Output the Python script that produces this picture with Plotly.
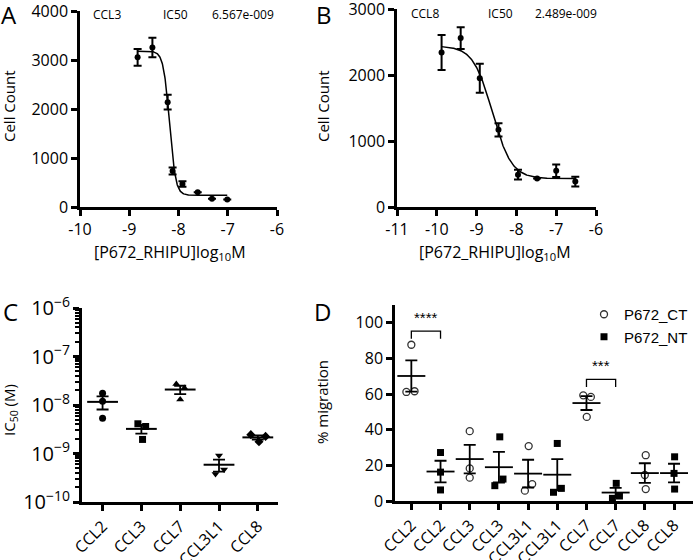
import numpy as np
import plotly.graph_objects as go

W, H = 693, 560
FONT = "Open Sans"

# ---------------- Panel A data (CCL3) ----------------
a_logx = [-8.83, -8.53, -8.22, -8.12, -7.92, -7.61, -7.32, -7.01]
a_mean = [3055, 3255, 2140, 735, 470, 300, 170, 155]
a_err = [170, 200, 150, 70, 55, 0, 0, 0]
a_fit = dict(top=3180, bottom=240, ic50=6.567e-9, hill=7.0)

# ---------------- Panel B data (CCL8) ----------------
b_logx = [-9.88, -9.40, -8.92, -8.45, -7.96, -7.48, -7.00, -6.52]
b_mean = [2340, 2560, 1950, 1170, 490, 430, 550, 385]
b_err = [265, 165, 220, 100, 75, 0, 95, 75]
b_fit = dict(top=2440, bottom=430, ic50=2.489e-9, hill=1.8)

# ---------------- Panel C data (IC50 per chemokine) ----------------
c_cats = ["CCL2", "CCL3", "CCL7", "CCL3L1", "CCL8"]
c_vals = [
    [1.75e-8, 1.2e-8, 5.3e-9],
    [4.1e-9, 3.6e-9, 1.95e-9],
    [2.7e-8, 2.25e-8, 1.3e-8],
    [9.1e-10, 4.7e-10, 3.8e-10],
    [2.45e-9, 2.25e-9, 1.75e-9],
]
c_symbols = ["circle", "square", "triangle-up", "triangle-down", "diamond"]
c_jitter = [
    [0.0, 0.0, 0.0],
    [-0.09, 0.11, 0.03],
    [-0.10, 0.11, 0.0],
    [0.0, 0.13, -0.09],
    [-0.18, 0.20, 0.03],
]

# ---------------- Panel D data (% migration) ----------------
d_cats = ["CCL2", "CCL2", "CCL3", "CCL3", "CCL3L1", "CCL3L1", "CCL7", "CCL7", "CCL8", "CCL8"]
d_group = ["P672_CT", "P672_NT"] * 5
d_vals = [
    [87.7, 61.2, 61.6],
    [27.2, 16.2, 6.2],
    [39.2, 18.3, 13.1],
    [36.0, 12.3, 8.6],
    [30.8, 9.5, 5.8],
    [32.3, 7.1, 4.9],
    [59.3, 58.4, 47.2],
    [9.9, 2.8, 1.5],
    [25.7, 14.6, 6.7],
    [24.8, 15.5, 6.7],
]
d_jitter = [
    [0.0, -0.17, 0.11],
    [0.0, 0.0, 0.0],
    [0.0, 0.0, 0.0],
    [0.03, 0.14, -0.14],
    [0.02, 0.14, -0.11],
    [0.0, 0.14, -0.13],
    [-0.11, 0.15, 0.01],
    [0.02, 0.13, -0.11],
    [0.03, 0.0, 0.03],
    [0.02, 0.0, 0.02],
]
d_sig = [(0, 1, "****", 95.3), (6, 7, "***", 68.3)]


def px_x(p):
    return p / W


def px_y(p):
    return 1 - p / H


def four_pl(x, top, bottom, ic50, hill):
    return bottom + (top - bottom) / (1 + 10 ** (hill * (x - np.log10(ic50))))


fig = go.Figure()

# ---- A ----
fig.add_trace(go.Scatter(
    x=a_logx, y=a_mean, mode="markers", xaxis="x", yaxis="y",
    marker=dict(color="black", size=6),
    error_y=dict(type="data", array=a_err, visible=True, color="black", thickness=2, width=4),
    showlegend=False))
xa = np.linspace(min(a_logx), max(a_logx), 300)
fig.add_trace(go.Scatter(x=xa, y=four_pl(xa, **a_fit), mode="lines", xaxis="x", yaxis="y",
                         line=dict(color="black", width=1.5), showlegend=False))

# ---- B ----
fig.add_trace(go.Scatter(
    x=b_logx, y=b_mean, mode="markers", xaxis="x2", yaxis="y2",
    marker=dict(color="black", size=6),
    error_y=dict(type="data", array=b_err, visible=True, color="black", thickness=2, width=4),
    showlegend=False))
xb = np.linspace(min(b_logx), max(b_logx), 300)
fig.add_trace(go.Scatter(x=xb, y=four_pl(xb, **b_fit), mode="lines", xaxis="x2", yaxis="y2",
                         line=dict(color="black", width=1.5), showlegend=False))

# ---- C ----
for i, (vals, sym, jit) in enumerate(zip(c_vals, c_symbols, c_jitter)):
    v = np.array(vals)
    m = v.mean()
    sem = v.std(ddof=1) / np.sqrt(len(v))
    fig.add_trace(go.Scatter(
        x=[i + j for j in jit], y=vals, mode="markers", xaxis="x3", yaxis="y3",
        marker=dict(symbol=sym, color="black", size=7), showlegend=False))
    fig.add_trace(go.Scatter(
        x=[i], y=[m], mode="markers", xaxis="x3", yaxis="y3",
        marker=dict(symbol="line-ew", size=22, line=dict(color="black", width=2)),
        error_y=dict(type="data", array=[sem], visible=True, color="black", thickness=1.8, width=6),
        showlegend=False))

# ---- D ----
shown = set()
for i, (vals, grp, jit) in enumerate(zip(d_vals, d_group, d_jitter)):
    v = np.array(vals)
    m = v.mean()
    sem = v.std(ddof=1) / np.sqrt(len(v))
    if grp == "P672_CT":
        mk = dict(symbol="circle-open", color="#333333", size=7, line=dict(width=1.3, color="#333333"))
    else:
        mk = dict(symbol="square", color="black", size=7)
    fig.add_trace(go.Scatter(
        x=[i + j for j in jit], y=vals, mode="markers", xaxis="x4", yaxis="y4",
        marker=mk, name=grp, showlegend=grp not in shown, legendgroup=grp))
    shown.add(grp)
    fig.add_trace(go.Scatter(
        x=[i], y=[m], mode="markers", xaxis="x4", yaxis="y4",
        marker=dict(symbol="line-ew", size=20, line=dict(color="black", width=1.8)),
        error_y=dict(type="data", array=[sem], visible=True, color="black", thickness=1.8, width=6),
        showlegend=False))

for (i0, i1, stars, h) in d_sig:
    fig.add_trace(go.Scatter(
        x=[i0, i0, i1, i1], y=[h - 4.3, h, h, h - 4.3], mode="lines", xaxis="x4", yaxis="y4",
        line=dict(color="black", width=1.3), showlegend=False, hoverinfo="skip"))
    fig.add_annotation(x=(i0 + i1) / 2, y=h + 2, xref="x4", yref="y4", text=stars,
                       showarrow=False, yanchor="bottom",
                       font=dict(family="Liberation Sans", size=15, color="black"))

axis_common = dict(showline=True, linecolor="black", linewidth=2.5, ticks="outside",
                   ticklen=6, tickwidth=2.5, tickcolor="black", showgrid=False, zeroline=False,
                   automargin=False, ticklabeloverflow="allow",
                   tickfont=dict(family=FONT, size=16, color="black"))

fig.update_layout(
    template="none",
    width=W, height=H, autosize=False,
    margin=dict(l=0, r=0, t=0, b=0, pad=0),
    paper_bgcolor="white", plot_bgcolor="white",
    font=dict(family=FONT, color="black"),
    xaxis=dict(domain=[px_x(80), px_x(277)], anchor="y", range=[-10, -6],
               tickvals=[-10, -9, -8, -7, -6], ticktext=["-10", "-9", "-8", "-7", "-6"], **axis_common),
    yaxis=dict(domain=[px_y(207), px_y(11)], anchor="x", range=[0, 4000],
               tickvals=[0, 1000, 2000, 3000, 4000], **axis_common),
    xaxis2=dict(domain=[px_x(397), px_x(596)], anchor="y2", range=[-11, -6],
                tickvals=[-11, -10, -9, -8, -7, -6], ticktext=["-11", "-10", "-9", "-8", "-7", "-6"],
                **axis_common),
    yaxis2=dict(domain=[px_y(207), px_y(9)], anchor="x2", range=[0, 3000],
                tickvals=[0, 1000, 2000, 3000], **axis_common),
    xaxis3=dict(domain=[px_x(82), px_x(278)], anchor="y3", range=[-0.53, 4.52],
                tickvals=list(range(len(c_cats))), ticktext=c_cats, tickangle=-45, **axis_common),
    yaxis3=dict(domain=[px_y(502), px_y(308)], anchor="x3", type="log", range=[-10, -6],
                dtick=1, exponentformat="power",
                minor=dict(ticks="outside", ticklen=4, tickwidth=1.5, tickcolor="black", dtick="D1"),
                **axis_common),
    xaxis4=dict(domain=[px_x(395), 1.0], anchor="y4", range=[-0.56, 9.65],
                tickvals=list(range(len(d_cats))), ticktext=d_cats, tickangle=-45, **axis_common),
    yaxis4=dict(domain=[px_y(501), px_y(305)], anchor="x4", range=[0, 110],
                tickvals=[0, 20, 40, 60, 80, 100], **axis_common),
    legend=dict(x=px_x(584), y=px_y(298), xanchor="left", yanchor="top",
                font=dict(family="Liberation Sans", size=15, color="black"),
                bgcolor="rgba(0,0,0,0)", tracegroupgap=0, itemwidth=30, borderwidth=0),
)


def ann(text, x, y, size, angle=0, family=FONT):
    fig.add_annotation(text=text, x=px_x(x), y=px_y(y), xref="paper", yref="paper",
                       showarrow=False, xanchor="center", yanchor="middle", textangle=angle,
                       font=dict(family=family, size=size, color="black"))


# panel letters
ann("A", 9, 14, 24)
ann("B", 324, 14, 24)
ann("C", 10, 311, 24)
ann("D", 322, 311, 24)

# in-plot text
ann("CCL3", 107, 14, 12)
ann("IC50", 175, 14, 12)
ann("6.567e-009", 243, 14, 12)
ann("CCL8", 425, 13, 12)
ann("IC50", 500, 13, 12)
ann("2.489e-009", 566, 13, 12)

# axis titles
ann("[P672_RHIPU]log<sub>10</sub>M", 170, 253, 16)
ann("[P672_RHIPU]log<sub>10</sub>M", 495, 253, 16)
ann("Cell Count", 9, 106, 15, angle=-90)
ann("Cell Count", 323, 106, 15, angle=-90)
ann("IC<sub>50</sub> (M)", 10, 410, 15, angle=-90)
ann("% migration", 322, 402, 15, angle=-90)

fig.write_html("out.html", config={"displayModeBar": False},
               post_script="document.body.style.margin='0px';")
